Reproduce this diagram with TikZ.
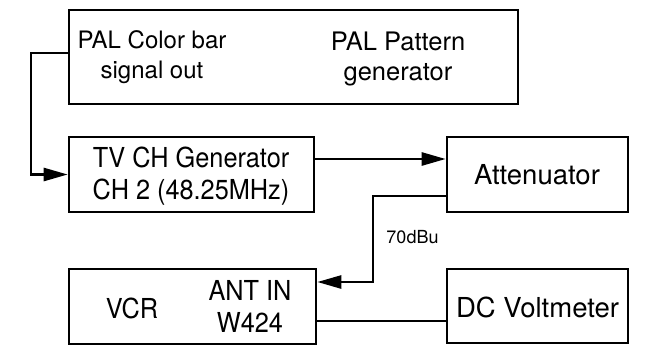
\documentclass[tikz,border=0pt]{standalone}
\usepackage{fontspec}
\setmainfont[FakeStretch=0.92]{TeX Gyre Heros}
\newfontfamily\widefont{TeX Gyre Heros}
\usetikzlibrary{arrows.meta}
\begin{document}
\begin{tikzpicture}[x=1pt,y=-1pt]
\tikzset{
  box/.style={draw, line width=2.6pt, inner sep=0pt},
  lbl/.style={font=\fontsize{27.5}{32}\selectfont, align=center, inner sep=0pt},
  widelbl/.style={font=\widefont\fontsize{27.5}{32}\selectfont, align=center, inner sep=0pt},
  toplbl/.style={font=\widefont\fontsize{#1}{30}\selectfont, align=center, inner sep=0pt},
  smalllbl/.style={font=\widefont\fontsize{18}{21}\selectfont, inner sep=0pt},
  conn/.style={line width=2.6pt},
  arr/.style={conn, -{Triangle[length=24pt,width=13pt]}}
}
\useasboundingbox (0,0) rectangle (661,362);
% boxes
\node[box, minimum width=449pt, minimum height=94pt] (pal) at (293.5,57) {};
\node[box, minimum width=245pt, minimum height=75pt] (tv) at (191.5,174.5) {};
\node[box, minimum width=181pt, minimum height=75pt] (att) at (537.5,174.5) {};
\node[box, minimum width=247pt, minimum height=75pt] (vcr) at (192.5,306.5) {};
\node[box, minimum width=181pt, minimum height=74pt] (dcv) at (537.5,306) {};
% texts
\node[toplbl=24] (palcb) at (152,57) {PAL Color bar\\signal out};
\node[toplbl=25.5] (palpg) at (398,59) {PAL Pattern\\generator};
\node[lbl] (tvt) at (191,176) {TV CH Generator\\CH 2 (48.25MHz)};
\node[widelbl] (attt) at (537,175) {Attenuator};
\node[widelbl] (dcvt) at (537.5,307) {DC Voltmeter};
\node[lbl] (vcrt) at (132,308) {VCR};
\node[lbl] (antt) at (250,306) {ANT IN\\W424};
\node[smalllbl] (dbu) at (412.5,237.5) {70dBu};
% helper coordinates
\coordinate (y53) at (0,53);
\coordinate (k1) at (31,53);
\coordinate (y159) at (0,159);
\coordinate (y196) at (0,196);
\coordinate (k2) at (373,196);
\coordinate (y282) at (0,282);
\coordinate (y321) at (0,321);
% connectors
\draw[arr] (pal.west |- y53) -- (k1) |- (tv.west);
\draw[arr] (tv.east |- y159) -- (att.west |- y159);
\draw[arr] (att.west |- y196) -- (k2) |- (vcr.east |- y282);
\draw[conn] (dcv.west |- y321) -- (vcr.east |- y321);
\end{tikzpicture}
\end{document}
